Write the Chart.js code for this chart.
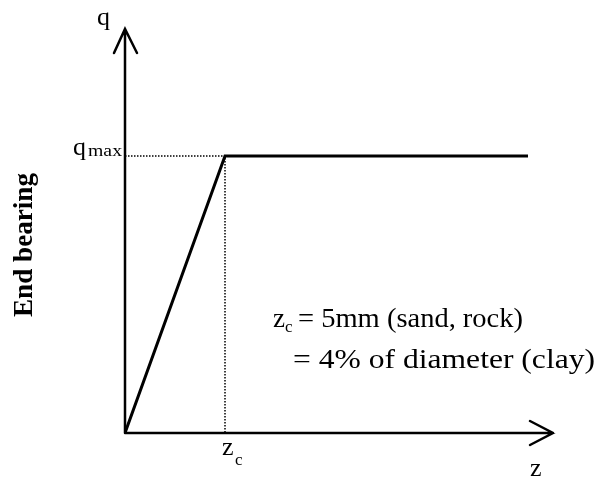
<!DOCTYPE html>
<html>
<head>
<meta charset="utf-8">
<script src="https://cdn.jsdelivr.net/npm/chart.js@4"></script>
<style>
  body { margin: 0; background: #fff; }
  #wrap { width: 616px; height: 482px; position: relative; }
</style>
</head>
<body>
<div id="wrap"><canvas id="chart"></canvas></div>
<script>
// curve: end bearing q vs tip displacement z
const zValues = [0, 2, 8.06];
const qValues = [0, 1, 1];
// dotted guides to q_max and z_c
const zGuide = [0, 2, 2];
const qGuide = [1, 1, 0];
// axis extents (arrow tips)
const zAxisMax = 8.56;
const qAxisMax = 1.458;

const axisTitle = "End bearing";
const noteLines = ["= 5mm (sand, rock)", "= 4% of diameter (clay)"];

const serif = '"Liberation Serif", "DejaVu Serif", serif';

function txt(ctx, s, x, y, size, bold, width) {
    ctx.save();
    ctx.font = (bold ? "bold " : "") + size + "px " + serif;
    ctx.fillStyle = "#000";
    ctx.textBaseline = "alphabetic";
    ctx.textAlign = "left";
    ctx.translate(x, y);
    if (width) ctx.scale(width / ctx.measureText(s).width, 1);
    ctx.fillText(s, 0, 0);
    ctx.restore();
}

// axes with arrows + labels
const sketchPlugin = {
    id: "sketch",
    afterDatasetsDraw(chart) {
        const ctx = chart.ctx;
        const x = chart.scales.x, y = chart.scales.y;
        const x0 = x.getPixelForValue(0), y0 = y.getPixelForValue(0);
        const xEnd = x.getPixelForValue(zAxisMax), yEnd = y.getPixelForValue(qAxisMax);

        ctx.save();
        ctx.strokeStyle = "#000";
        ctx.lineWidth = 2.5;
        ctx.lineCap = "round";
        ctx.beginPath();
        ctx.moveTo(x0, y0); ctx.lineTo(x0, yEnd);
        ctx.moveTo(x0 - 11, yEnd + 24); ctx.lineTo(x0, yEnd); ctx.lineTo(x0 + 12, yEnd + 24);
        ctx.moveTo(x0, y0); ctx.lineTo(xEnd, y0);
        ctx.moveTo(xEnd - 23, y0 - 12); ctx.lineTo(xEnd, y0); ctx.lineTo(xEnd - 23, y0 + 12);
        ctx.stroke();
        ctx.restore();

        const zc = x.getPixelForValue(zValues[1]);
        const qm = y.getPixelForValue(qValues[1]);

        txt(ctx, "q", x0 - 28, yEnd - 4, 26);
        txt(ctx, "q", x0 - 52, qm - 1, 26);
        txt(ctx, "max", x0 - 37, qm, 17, false, 34);
        txt(ctx, "z", zc - 3, y0 + 22, 26);
        txt(ctx, "c", zc + 10, y0 + 32, 17);
        txt(ctx, "z", xEnd - 23, y0 + 43, 26);

        txt(ctx, "z", 273, 327, 27);
        txt(ctx, "c", 285, 332, 17);
        txt(ctx, noteLines[0], 298, 327, 27, false, 225);
        txt(ctx, noteLines[1], 293, 368, 27, false, 302);

        ctx.save();
        ctx.translate(32, 245);
        ctx.rotate(-Math.PI / 2);
        ctx.font = "bold 27px " + serif;
        ctx.fillStyle = "#000";
        ctx.textAlign = "center";
        ctx.textBaseline = "alphabetic";
        ctx.scale(144 / ctx.measureText(axisTitle).width, 1);
        ctx.fillText(axisTitle, 0, 0);
        ctx.restore();
    }
};

new Chart(document.getElementById("chart"), {
    type: "scatter",
    data: {
        datasets: [
            {
                data: zGuide.map((z, i) => ({ x: z, y: qGuide[i] })),
                showLine: true,
                borderColor: "#000",
                borderWidth: 1.5,
                borderDash: [1.5, 1.5],
                pointRadius: 0,
                order: 2
            },
            {
                data: zValues.map((z, i) => ({ x: z, y: qValues[i] })),
                showLine: true,
                borderColor: "#000",
                borderWidth: 3,
                pointRadius: 0,
                order: 1
            }
        ]
    },
    options: {
        responsive: true,
        maintainAspectRatio: false,
        animation: false,
        layout: { padding: { left: 125, right: 63, top: 29, bottom: 49 } },
        plugins: { legend: { display: false }, tooltip: { enabled: false } },
        scales: {
            x: { type: "linear", min: 0, max: zAxisMax, display: false },
            y: { type: "linear", min: 0, max: qAxisMax, display: false }
        }
    },
    plugins: [sketchPlugin]
});
</script>
</body>
</html>
